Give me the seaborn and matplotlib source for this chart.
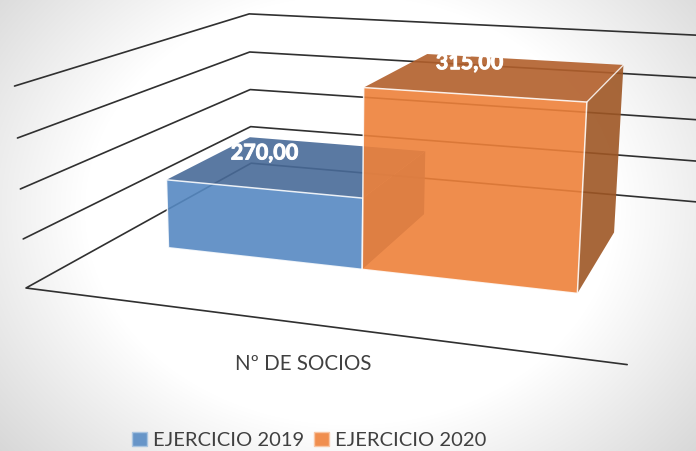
import numpy as np
import pandas as pd
import matplotlib
matplotlib.use('Agg')
import matplotlib.pyplot as plt
import matplotlib.patheffects as pe
from matplotlib.patches import Patch
from matplotlib.colors import to_rgba
import seaborn as sns

# datos
series = ['EJERCICIO 2019', 'EJERCICIO 2020']
valores = [270.0, 315.0]
categoria = 'Nº DE SOCIOS'
ticks = [240, 260, 280, 300, 320]

sns.set_theme(style='white')
plt.rcParams['font.family'] = ['Lato', 'DejaVu Sans']

# camara: esquinas de las barras (x, prof, valor) -> pixel
calib = [
    (0, 0, 240, 168, 247), (0, 0, 270, 167, 180), (1, 0, 240, 362, 269),
    (1, 0, 270, 363, 199), (1, 1, 270, 425, 152), (1, 1, 240, 424, 215),
    (0, 1, 270, 250, 137), (1, 0, 315, 363, 88), (2, 0, 240, 578, 293),
    (2, 0, 315, 587, 102), (2, 1, 315, 623, 65), (2, 1, 240, 614, 232),
    (1, 1, 315, 428, 53),
]
A = []
for x, d, v, px, py in calib:
    X = [x, d, (v - 240) / 80, 1]
    A.append(X + [0, 0, 0, 0] + [-px * c for c in X])
    A.append([0, 0, 0, 0] + X + [-py * c for c in X])
P = np.linalg.svd(np.array(A, dtype=float))[2][-1].reshape(3, 4)


def project(x, d, v):
    p = P @ np.array([x, d, (v - 240) / 80, 1.0])
    return p[0] / p[2], p[1] / p[2]


def floor_point(px, py):
    # pixel del suelo -> (x, prof)
    H = P[:, [0, 1, 3]]
    s = np.linalg.solve(H, [px, py, 1.0])
    return s[0] / s[2], s[1] / s[2]


xL, dF = floor_point(26, 288)
_, dB = floor_point(249, 163)
xR, _ = floor_point(627, 365)

fig, ax = plt.subplots(figsize=(6.96, 4.51), dpi=100)
fig.subplots_adjust(0, 0, 1, 1)

# fondo con degradado radial
yy, xx = np.mgrid[0:451, 0:696]
r = np.hypot((xx - 350) / 420, (yy - 210) / 340)
ax.imshow(np.clip((r - 0.62) / 0.6, 0, 1), cmap='gray_r', vmin=0, vmax=5,
          extent=(0, 696, 451, 0), aspect='auto', zorder=0)

# rejilla: una polilinea por cada valor del eje
filas = []
for v in ticks:
    esquinas = [(xL, dF), (xL, dB), (xR, dB)]
    if v == ticks[0]:
        esquinas = [(xR, dF)] + esquinas
    for i, (x, d) in enumerate(esquinas):
        px, py = project(x, d, v)
        filas.append({'valor': v, 'orden': i, 'px': px, 'py': py})
rejilla = pd.DataFrame(filas)
sns.lineplot(data=rejilla, x='px', y='py', units='valor', estimator=None, sort=False,
             color='#303030', linewidth=1.2, ax=ax, zorder=1, legend=False)
ax.set_xlim(0, 696)
ax.set_ylim(451, 0)
ax.axis('off')


def cara(puntos, color, alpha, borde=None):
    xy = [project(*p) for p in puntos]
    ec = to_rgba(borde, 0.85) if borde else 'none'
    ax.fill(*zip(*xy), fc=to_rgba(color, alpha), ec=ec, lw=1.1, zorder=2)


paleta = {
    0: ('#5689C2', '#486A98', '#3F5F8C'),
    1: ('#EE813A', '#B25F2B', '#9E5624'),
}
desplaza = {0: (-37, -12), 1: (-30, -13)}
for i, v in enumerate(valores):
    frente, arriba, lado = paleta[i]
    a, b = i, i + 1
    cara([(b, 0, 240), (b, 1, 240), (b, 1, v), (b, 0, v)], lado, 0.9)
    cara([(a, 0, v), (b, 0, v), (b, 1, v), (a, 1, v)], arriba, 0.9)
    cara([(a, 0, 240), (b, 0, 240), (b, 0, v), (a, 0, v)], frente, 0.9, '#ffffff')
    # arista superior marcada
    px, py = zip(project(b, 0, v), project(b, 1, v))
    ax.plot(px, py, color='white', lw=1.0, alpha=0.8 if i else 0.0, zorder=3)
    px, py = project(a + 0.5, 0.5, v)
    ax.text(px + desplaza[i][0], py + desplaza[i][1],
            f'{v:.2f}'.replace('.', ','), color='white', fontsize=15.5,
            fontweight='bold', ha='center', va='center', zorder=4,
            path_effects=[pe.withStroke(linewidth=0.7, foreground='white')])

ax.text(303, 364, categoria, color='#404040', fontsize=14.8, ha='center', va='center', zorder=4)

handles = [Patch(fc='#6795C8', ec='#A9C4E0', lw=1, label=series[0]),
           Patch(fc='#F08E4E', ec='#F8C6A4', lw=1, label=series[1])]
ax.legend(handles=handles, loc='lower left', bbox_to_anchor=(130, 451), bbox_transform=ax.transData,
          ncol=2, frameon=False, fontsize=14.5, labelcolor='#404040', handlelength=0.72, handleheight=0.72,
          handletextpad=0.3, columnspacing=0.52, borderaxespad=0, borderpad=0.1)

fig.savefig('out.png', dpi=100)
